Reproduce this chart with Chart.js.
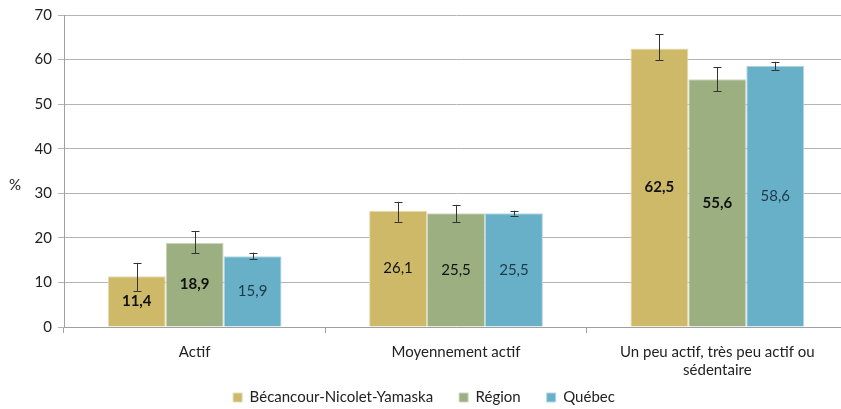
<!DOCTYPE html>
<html>
<head>
<meta charset="utf-8">
<script src="https://cdn.jsdelivr.net/npm/chart.js@4"></script>
<style>
  html, body { margin: 0; padding: 0; background: #fff; overflow: hidden; }
  #wrap { width: 850px; height: 409px; position: relative; }
</style>
</head>
<body>
<div id="wrap"><canvas id="chart"></canvas></div>
<script>
const categories = ['Actif', 'Moyennement actif', ['Un peu actif, très peu actif ou', 'sédentaire']]
const seriesNames = ['Bécancour-Nicolet-Yamaska', 'Région', 'Québec']

const bnyValues = [11.4, 26.1, 62.5]
const regionValues = [18.9, 25.5, 55.6]
const quebecValues = [15.9, 25.5, 58.6]

// intervalles de confiance (bas, haut)
const bnyLow = [8.1, 23.6, 59.9]
const bnyHigh = [14.4, 28.1, 65.7]
const regionLow = [16.5, 23.5, 52.9]
const regionHigh = [21.5, 27.4, 58.3]
const quebecLow = [15.2, 25.0, 57.7]
const quebecHigh = [16.7, 26.1, 59.5]

// valeurs en gras (écart significatif)
const bnyBold = [true, false, true]
const regionBold = [true, false, true]
const quebecBold = [false, false, false]

const yTicks = [0, 10, 20, 30, 40, 50, 60, 70]

const FONT = 'Lato, "Open Sans", sans-serif'
const LEGEND_PAD = 26

const errorBars = {
  id: 'errorBars',
  afterDatasetsDraw(chart) {
    const ctx = chart.ctx
    const y = chart.scales.y
    chart.data.datasets.forEach((ds, i) => {
      const meta = chart.getDatasetMeta(i)
      meta.data.forEach((bar, j) => {
        const top = y.getPixelForValue(ds.high[j])
        const bot = y.getPixelForValue(ds.low[j])
        const x = Math.round(bar.x) + 0.5
        ctx.save()
        ctx.strokeStyle = '#333'
        ctx.lineWidth = 1
        ctx.beginPath()
        ctx.moveTo(x, top); ctx.lineTo(x, bot)
        ctx.moveTo(x - 4, Math.round(top) + 0.5); ctx.lineTo(x + 4, Math.round(top) + 0.5)
        ctx.moveTo(x - 4, Math.round(bot) + 0.5); ctx.lineTo(x + 4, Math.round(bot) + 0.5)
        ctx.stroke()
        ctx.restore()
      })
    })
  }
}

const valueLabels = {
  id: 'valueLabels',
  afterDatasetsDraw(chart) {
    const ctx = chart.ctx
    chart.data.datasets.forEach((ds, i) => {
      const meta = chart.getDatasetMeta(i)
      meta.data.forEach((bar, j) => {
        const txt = ds.data[j].toFixed(1).replace('.', ',')
        ctx.save()
        ctx.font = (ds.bold[j] ? 'bold ' : '') + '15px ' + FONT
        ctx.fillStyle = ds.labelColor
        ctx.textAlign = 'center'
        ctx.textBaseline = 'middle'
        ctx.fillText(txt, bar.x, (bar.y + bar.base) / 2)
        ctx.restore()
      })
    })
  }
}

const percentTitle = {
  id: 'percentTitle',
  afterDraw(chart) {
    const ctx = chart.ctx
    ctx.save()
    ctx.font = '15px ' + FONT
    ctx.fillStyle = '#222'
    ctx.textAlign = 'center'
    ctx.textBaseline = 'middle'
    ctx.fillText('%', 15, 185)
    ctx.restore()
  }
}

// the legend uses one padding for both spacing and offset: move it up after layout
const legendShift = {
  id: 'legendShift',
  afterLayout(chart) {
    const lg = chart.legend
    lg.top = 390 - LEGEND_PAD
    lg.bottom = chart.height
    lg.height = lg.bottom - lg.top
  }
}

const data = {
  labels: categories,
  datasets: [
    { label: seriesNames[0], data: bnyValues, low: bnyLow, high: bnyHigh, bold: bnyBold,
      backgroundColor: '#CDB967', borderColor: '#E6DCB4', borderWidth: 1, labelColor: '#111' },
    { label: seriesNames[1], data: regionValues, low: regionLow, high: regionHigh, bold: regionBold,
      backgroundColor: '#9BAF80', borderColor: '#CDD7C0', borderWidth: 1, labelColor: '#111' },
    { label: seriesNames[2], data: quebecValues, low: quebecLow, high: quebecHigh, bold: quebecBold,
      backgroundColor: '#68AFC8', borderColor: '#B4D7E4', borderWidth: 1, labelColor: '#1E3A48' },
  ]
}

const chart_config = {
  type: 'bar',
  data: data,
  plugins: [errorBars, valueLabels, percentTitle, legendShift],
  options: {
    responsive: true,
    maintainAspectRatio: false,
    animation: false,
    categoryPercentage: 0.665,
    barPercentage: 1.0,
    layout: { padding: { top: 8, right: 2, left: 0, bottom: 0 } },
    plugins: {
      tooltip: { enabled: false },
      legend: {
        position: 'bottom',
        maxHeight: 32,
        labels: {
          boxWidth: 9, boxHeight: 9, padding: LEGEND_PAD,
          color: '#222',
          font: { family: FONT, size: 15 }
        }
      }
    },
    scales: {
      y: {
        min: 0, max: 70,
        afterFit(scale) { scale.width = 64 },
        afterBuildTicks(scale) { scale.ticks = yTicks.map(v => ({ value: v })) },
        ticks: { color: '#222', font: { family: FONT, size: 15 }, padding: 6 },
        grid: { color: '#B4B4B4', tickLength: 6, tickColor: '#B4B4B4' },
        border: { color: '#A0A0A0' }
      },
      x: {
        afterFit(scale) { scale.height = 50 },
        ticks: { color: '#222', font: { family: FONT, size: 15 }, padding: 10, maxRotation: 0 },
        grid: { drawOnChartArea: false, offset: true, tickLength: 6, color: '#A0A0A0' },
        border: { color: '#A0A0A0' }
      }
    }
  }
}

const table = new Chart(document.getElementById('chart'), chart_config)
</script>
</body>
</html>
